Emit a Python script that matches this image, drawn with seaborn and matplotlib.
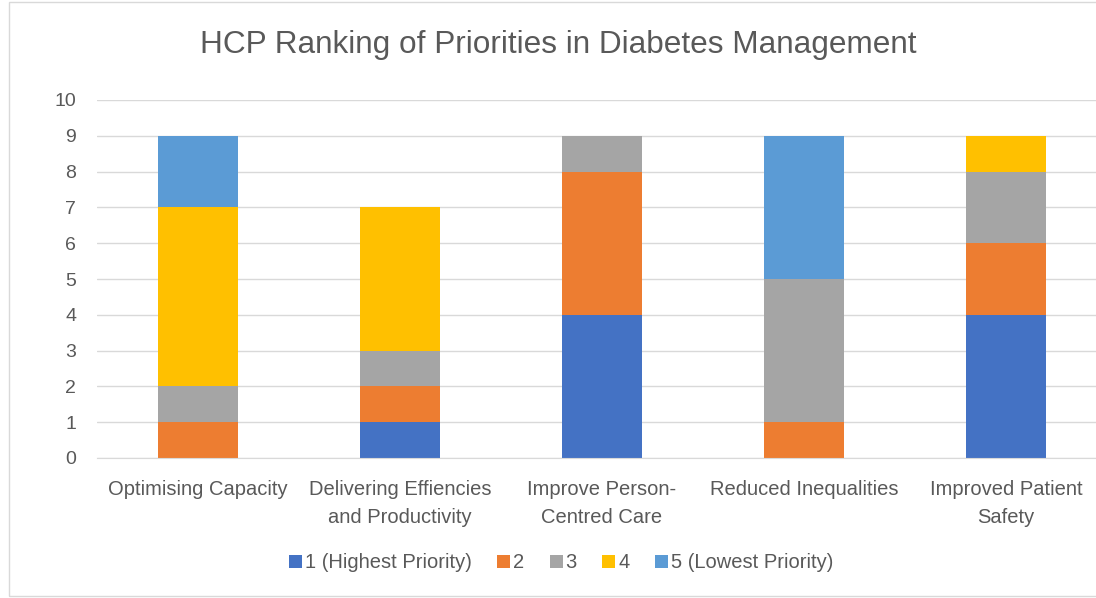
import pandas as pd
import seaborn as sns
import matplotlib.pyplot as plt
from matplotlib.patches import Rectangle

categories = ['Optimising Capacity', 'Delivering Effiencies\nand Productivity',
              'Improve Person-\nCentred Care', 'Reduced Inequalities',
              'Improved Patient\nSafety']
levels = ['1 (Highest Priority)', '2', '3', '4', '5 (Lowest Priority)']
rank1 = [0, 1, 4, 0, 4]
rank2 = [1, 1, 4, 1, 2]
rank3 = [1, 1, 1, 4, 2]
rank4 = [5, 4, 0, 0, 1]
rank5 = [2, 0, 0, 4, 0]
colors = ['#4472C4', '#ED7D31', '#A5A5A5', '#FFC000', '#5B9BD5']

df = pd.DataFrame({'category': categories, levels[0]: rank1, levels[1]: rank2,
                   levels[2]: rank3, levels[3]: rank4, levels[4]: rank5})

sns.set_style('white')
plt.rcParams['font.family'] = ['Liberation Sans', 'DejaVu Sans']
text_col = '#595959'

fig = plt.figure(figsize=(10.96, 5.98), dpi=100)
ax = fig.add_axes([97 / 1096, 1 - 458 / 598, 1010 / 1096, 358 / 598])

bottom = [0] * len(categories)
for lvl, col in zip(levels, colors):
    sns.barplot(data=df, x='category', y=lvl, order=categories, color=col,
                width=0.396, bottom=bottom, errorbar=None, linewidth=0,
                saturation=1, label=lvl, ax=ax)
    bottom = [b + v for b, v in zip(bottom, df[lvl])]

ax.set_ylim(0, 10)
ax.set_yticks(range(0, 11))
ax.set_xlim(-0.5, len(categories) - 0.5)
ax.set_xlabel('')
ax.set_ylabel('')
ax.yaxis.grid(True, color='#d9d9d9', lw=1)
ax.set_axisbelow(True)
for s in ['left', 'right', 'top']:
    ax.spines[s].set_visible(False)
ax.spines['bottom'].set_color('#d9d9d9')
ax.tick_params(axis='both', length=0, colors=text_col)
ax.tick_params(axis='y', pad=15, labelsize=14)
ax.tick_params(axis='x', pad=16, labelsize=14.5)
for t in ax.get_xticklabels():
    t.set_linespacing(1.6)

fig.text(558 / 1096, 1 - 45 / 598, 'HCP Ranking of Priorities in Diabetes Management',
         ha='center', va='center', fontsize=22.7, color=text_col)

handles, labels = ax.get_legend_handles_labels()
fig.legend(handles, labels, loc='center', bbox_to_anchor=(561 / 1096, 1 - 563 / 598),
           ncol=5, frameon=False, fontsize=14.5, handlelength=0.65, handleheight=0.65,
           handletextpad=0.15, columnspacing=1.25, labelcolor=text_col)
if ax.get_legend():
    ax.get_legend().remove()

fig.patches.append(Rectangle((9 / 1096, 2 / 598), 1.1, 594 / 598, transform=fig.transFigure,
                             fill=False, edgecolor='#d9d9d9', lw=1))

fig.savefig('out.png', dpi=100)
